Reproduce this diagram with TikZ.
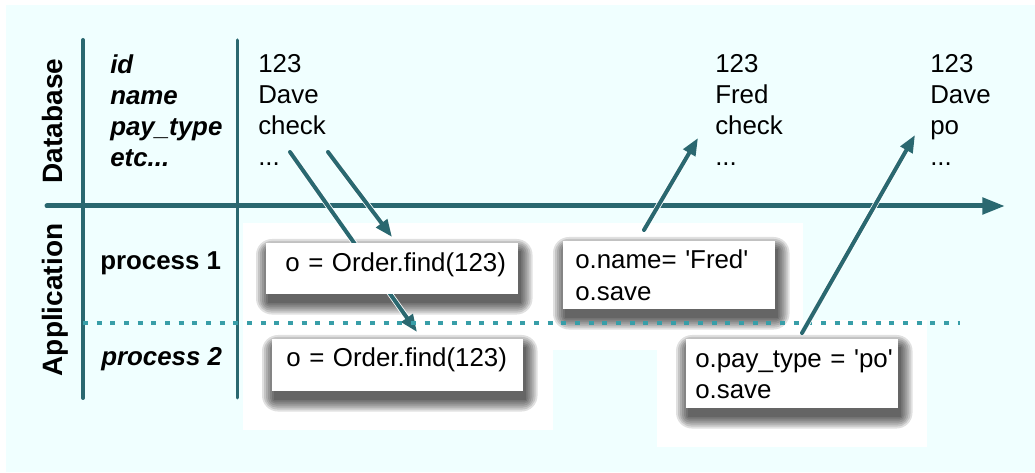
\documentclass[tikz,border=0pt]{standalone}
\usepackage{fontspec}
\setmainfont{Liberation Sans}
\usepackage{tikz}
\usetikzlibrary{arrows.meta}
\definecolor{lockteal}{RGB}{42,104,112}
\definecolor{lockdot}{RGB}{56,158,168}
\definecolor{lockbg}{RGB}{240,255,255}
\newcommand{\rowfont}{\fontsize{19.4pt}{23.3pt}\selectfont}
\newcommand{\lanefont}{\fontsize{21pt}{24pt}\selectfont\bfseries}
\hyphenpenalty=10000
\pgfdeclarelayer{bg}
\pgfdeclarelayer{shadelayer}
\pgfsetlayers{bg,shadelayer,main}

\begin{document}
\begin{tikzpicture}[x=0.75pt, y=-0.75pt,
      lane/.style={font=\lanefont, rotate=90, anchor=base, inner sep=0pt},
      field/.style={font=\rowfont\bfseries\itshape, align=left, anchor=north west, inner sep=0pt},
      cell/.style={font=\rowfont, align=left, anchor=north west, inner sep=0pt},
      proc/.style={font=\rowfont\bfseries, anchor=base west, inner sep=0pt},
      box/.style={fill=white, anchor=north west, align=left, font=\rowfont, inner ysep=0pt},
      boxshade/.style={fill=black, fill opacity=0.12, rounded corners=#1},
      backdrop/.style={fill=white},
      spine/.style={line width=3pt, color=lockteal, line cap=round},
      divider/.style={line width=2.25pt, color=lockteal, line cap=round},
      timeline/.style={-{Triangle[length=17pt, width=12pt]}, line width=3.75pt, color=lockteal, line cap=round},
      split/.style={line width=2.3pt, color=lockdot, dash pattern=on 3.75pt off 6.5pt},
      arr/.style={-{Triangle[length=13pt, width=10pt]}, line width=3pt, color=lockteal, line cap=round,
        preaction={draw=white, line width=4.2pt}}
    ]
      \useasboundingbox (0,0) rectangle (1035,473);
      \begin{pgfonlayer}{bg}
        \fill[lockbg] (6,5) rectangle (1035,472);
        % White areas behind the boxes
        \fill[backdrop] (243,223) rectangle (553,430);
        \fill[backdrop] (540,223) rectangle (803,350);
        \fill[backdrop] (657,320) rectangle (927,447);
      \end{pgfonlayer}

      % Lanes and axes
      \node[lane] (dblane) at (62,121) {Database};
      \node[lane] (applane) at (62,300) {Application};
      \draw[spine] (83,40) -- (83,398);
      \draw[divider] (237,40) -- (237,398);
      \draw[timeline] (47,206) -- (1005,206);

      % Database rows
      \node[field] (fields) at (110,54) {id\\name\\pay\_type\\etc...};
      \node[cell] (rec1) at (258,54) {123\\Dave\\check\\...};
      \node[cell] (rec2) at (715,54) {123\\Fred\\check\\...};
      \node[cell] (rec3) at (930,54) {123\\Dave\\po\\...};

      % Processes
      \node[proc] (proc1) at (100,270) {process 1};
      \node[proc, font=\rowfont\bfseries\itshape] (proc2) at (101,366) {process 2};

      % Reads
      \coordinate (srcA) at (290,152);
      \coordinate (srcB) at (328,152);
      \coordinate (dstC) at (698,138);
      \coordinate (dstD) at (915,135);
      \draw[arr] (srcA) -- (417,332);
      \draw[arr] (srcB) -- (392,237);

      % Code boxes
      \node[box, inner xsep=14.25pt, text width=160.5pt, minimum height=38.25pt, text depth=10pt] (find1) at (266,243) {o~=~Order.find(123)};
      \node[box, inner xsep=10.5pt, text width=167.25pt, minimum height=39pt, text depth=12pt] (find2) at (272,339) {o~=~Order.find(123)};
      \node[box, inner xsep=9pt, text width=141pt, minimum height=51pt] (save1) at (563,241) {o.name=~\textquotesingle Fred\textquotesingle\\o.save};
      \node[box, inner xsep=6.75pt, text width=145.5pt, minimum height=51.75pt] (save2) at (686,339) {o.pay\_type~=~\textquotesingle po\textquotesingle\\o.save};

      % Soft shadows under the boxes
      \begin{pgfonlayer}{shadelayer}
        \foreach \b in {find1,find2,save1,save2}
          \foreach \r in {0,2,...,12}
            \fill[boxshade=\r pt] ([shift={(2-\r,8-\r)}]\b.north west) rectangle ([shift={(2+\r,8+\r)}]\b.south east);
      \end{pgfonlayer}

      \draw[split] (83,323) -- (960,323);

      % Writes
      \draw[arr] ([shift={(81,-11)}]save1.north west) -- (dstC);
      \draw[arr] ([shift={(116,-6)}]save2.north west) -- (dstD);
    \end{tikzpicture}
\end{document}
